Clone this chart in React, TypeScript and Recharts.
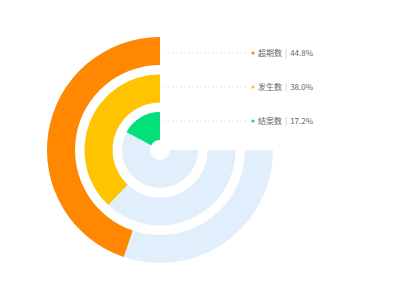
import React from "react"
import { LabelList, PolarAngleAxis, RadialBar, RadialBarChart } from "recharts"

// inner ring first
const names = ["结案数", "发生数", "超期数"]
const values = [17.2, 38.0, 44.8]
const colors = ["#03e07a", "#ffc300", "#ff8800"]

const data = names.map((name, i) => ({ name, value: values[i], fill: colors[i] }))

const cx = 160
const cy = 150

const LegendLabel = (props: any) => {
  const { index } = props
  const rank = names.length - 1 - index
  const y = cy - 97 + rank * 34
  const x0 = cx + 4
  const x1 = cx + 88
  return (
    <g>
      <line x1={x0} y1={y} x2={x1} y2={y} stroke="#e6e6e6" strokeWidth={1} strokeDasharray="2 2" />
      <circle cx={x1 + 5} cy={y} r={1.6} fill={colors[index]} />
      <text
        x={x1 + 10}
        y={y}
        dy="0.35em"
        fontSize={8}
        fontFamily="'Noto Sans CJK SC', 'Noto Sans', sans-serif"
        fill="#666"
      >
        {names[index]}
        <tspan dx={3} fill="#bbb">|</tspan>
        <tspan dx={3}>{values[index].toFixed(1)}%</tspan>
      </text>
    </g>
  )
}

const App = () => {
  return (
    <div style={{ position: "absolute", left: 0, top: 0 }}>
      <RadialBarChart
        width={400}
        height={300}
        cx={cx}
        cy={cy}
        innerRadius={5}
        outerRadius={117.5}
        barSize={28}
        startAngle={90}
        endAngle={360}
        data={data}
      >
        <PolarAngleAxis type="number" dataKey="value" domain={[0, 75]} tick={false} axisLine={false} />
        <RadialBar dataKey="value" background={{ fill: "#e1eefc" }} isAnimationActive={false}>
          <LabelList dataKey="value" content={<LegendLabel />} />
        </RadialBar>
      </RadialBarChart>
    </div>
  )
}

export default App
